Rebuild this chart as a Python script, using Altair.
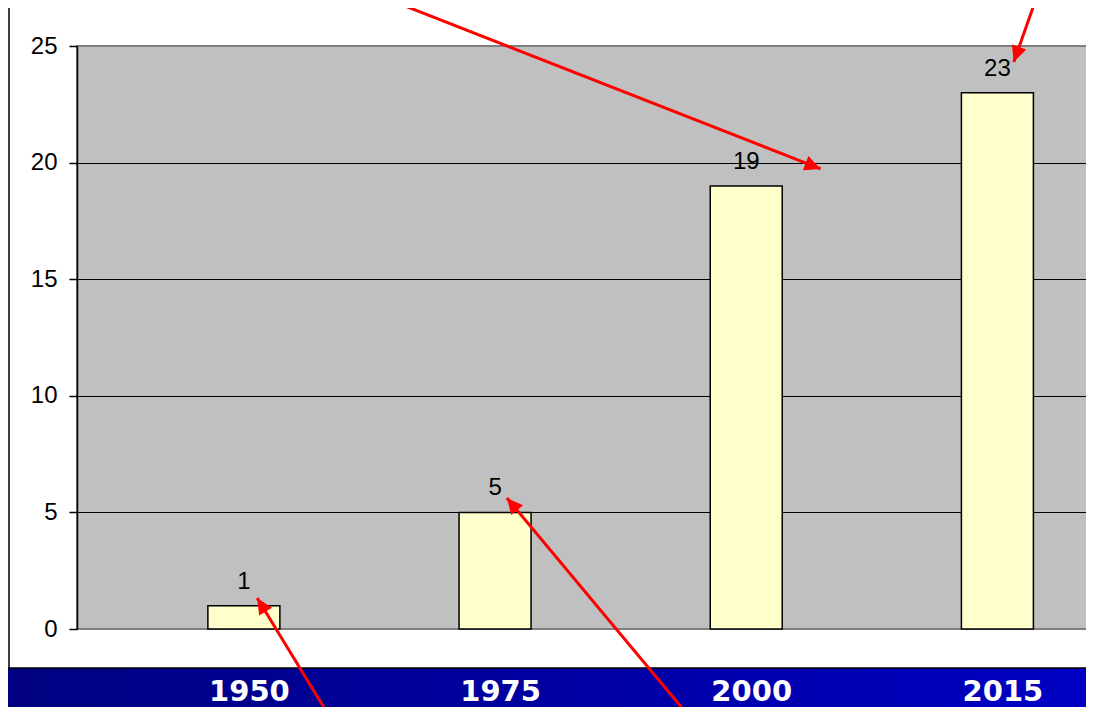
import math
import altair as alt
import pandas as pd

# ---- data ----
years = ["1950", "1975", "2000", "2015"]
values = [1, 5, 19, 23]

# red annotation arrows, in data units (x: category index, y: value)
arrow_x_start = [0.5815, 3.152, 0.337, 1.768]
arrow_y_start = [26.97, 26.97, -3.69, -3.69]
arrow_x_end = [2.296, 3.065, 0.053, 1.047]
arrow_y_end = [19.73, 24.31, 1.33, 5.62]

# ---- layout ----
W, H = 1015, 583
X_DOMAIN = [-0.6445, 3.3567]
Y_DOMAIN = [0, 25]

bars = pd.DataFrame({"i": list(range(len(years))), "year": years, "value": values})

px_x = W / (X_DOMAIN[1] - X_DOMAIN[0])
px_y = H / (Y_DOMAIN[1] - Y_DOMAIN[0])
angles = []
for xs, ys, xe, ye in zip(arrow_x_start, arrow_y_start, arrow_x_end, arrow_y_end):
    dx = (xe - xs) * px_x
    dy = -(ye - ys) * px_y
    angles.append(math.degrees(math.atan2(dx, -dy)) % 360)

arrows = pd.DataFrame({
    "xs": arrow_x_start, "ys": arrow_y_start,
    "xe": arrow_x_end, "ye": arrow_y_end, "angle": angles,
})

xscale = alt.Scale(domain=X_DOMAIN, nice=False, zero=False)
yscale = alt.Scale(domain=Y_DOMAIN, nice=False, zero=False)

label_expr = "[" + ",".join("'%s'" % y for y in years) + "][datum.value]"

x_axis = alt.Axis(
    values=list(range(len(years))), labelExpr=label_expr, ticks=False,
    domain=False, grid=False, labelFont="DejaVu Sans", labelFontSize=29,
    labelColor="white", labelPadding=71, labelBaseline="alphabetic",
    labelFontWeight="bold", title=None, zindex=1, labelOffset=5,
)
y_axis = alt.Axis(
    values=[0, 5, 10, 15, 20, 25], grid=True,
    gridColor={"condition": {"test": "datum.value == 0 || datum.value == 25",
                             "value": "#808080"}, "value": "#000000"},
    gridWidth=1, domainColor="black", domainWidth=1.5, tickColor="black",
    tickSize=8, tickWidth=1.5, labelFont="Liberation Sans", labelFontSize=24,
    labelColor="black", labelPadding=12, title=None,
)

one = pd.DataFrame({"a": [0]})

blue_strip = alt.Chart(one).mark_rect(
    fill=alt.LinearGradient(
        gradient="linear", x1=0, x2=1, y1=0, y2=0,
        stops=[alt.GradientStop(offset=0, color="#000080"),
               alt.GradientStop(offset=1, color="#0000C4")],
    ),
    stroke="black", strokeWidth=1.5,
).encode(x=alt.value(-75), x2=alt.value(1025), y=alt.value(622), y2=alt.value(680))

left_border = alt.Chart(one).mark_rule(color="black", strokeWidth=1.5).encode(
    x=alt.value(-68), y=alt.value(-45), y2=alt.value(622)
)

bar_layer = alt.Chart(bars).mark_bar(
    size=72, fill="#FFFFCC", stroke="black", strokeWidth=1.5
).encode(
    x=alt.X("i:Q", scale=xscale, axis=x_axis),
    y=alt.Y("value:Q", scale=yscale, axis=y_axis),
)

text_layer = alt.Chart(bars).mark_text(
    dy=-17, baseline="alphabetic", font="Liberation Sans", fontSize=24, color="black"
).encode(
    x=alt.X("i:Q", scale=xscale),
    y=alt.Y("value:Q", scale=yscale),
    text="value:Q",
)

arrow_lines = alt.Chart(arrows).mark_rule(color="#FF0000", strokeWidth=3).encode(
    x=alt.X("xs:Q", scale=xscale), y=alt.Y("ys:Q", scale=yscale),
    x2="xe:Q", y2="ye:Q",
)

arrow_heads = alt.Chart(arrows).mark_point(
    shape="M0,0L-0.95,2L0.95,2Z", filled=True, fill="#FF0000", opacity=1,
    size=256, strokeWidth=0,
).encode(
    x=alt.X("xe:Q", scale=xscale), y=alt.Y("ye:Q", scale=yscale),
    angle=alt.Angle("angle:Q", scale=None),
)

chart = alt.layer(
    blue_strip, left_border, bar_layer, text_layer, arrow_lines, arrow_heads
).properties(
    width=W, height=H,
    autosize=alt.AutoSizeParams(type="none"),
    padding={"left": 69, "top": 38, "right": -6, "bottom": 78},
    background="white",
).configure_view(fill="#C0C0C0", stroke="#808080", strokeWidth=2)

chart.save("out.html", embed_options={"renderer": "svg", "actions": False})
